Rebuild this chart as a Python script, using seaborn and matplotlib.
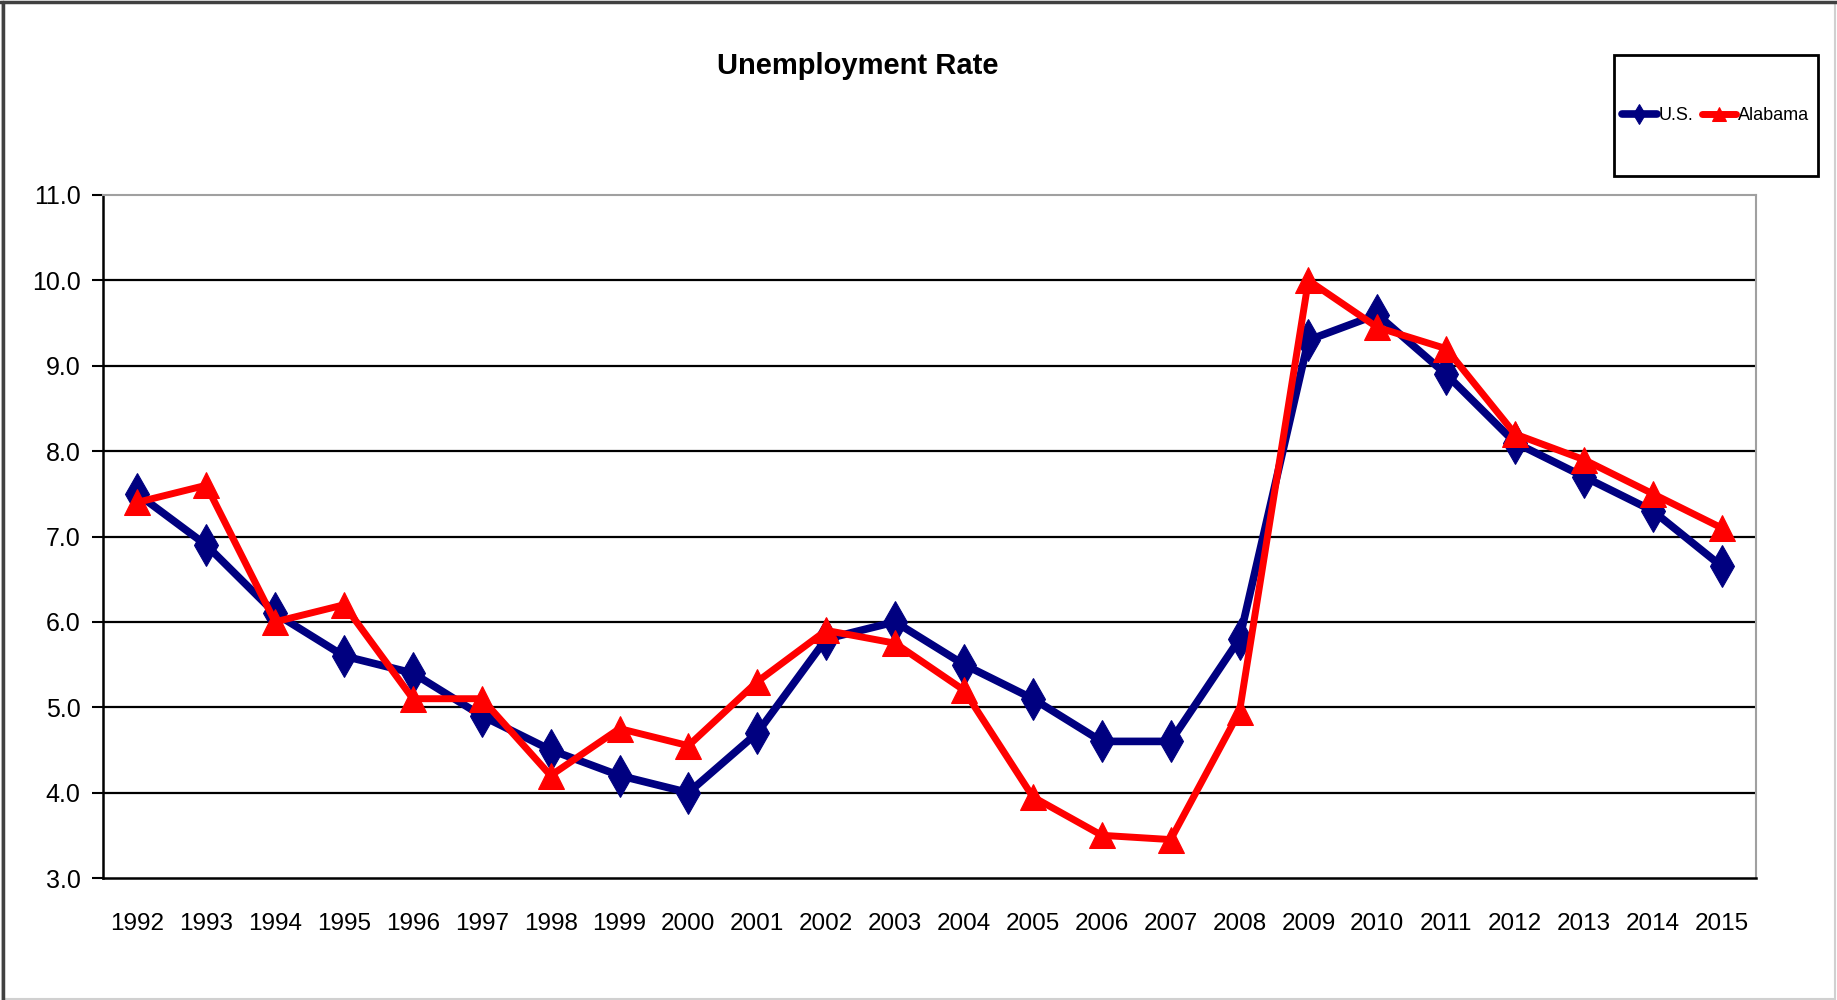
import numpy as np
import pandas as pd
import seaborn as sns
import matplotlib.pyplot as plt
from matplotlib.patches import Rectangle

years = [str(y) for y in range(1992, 2016)]
us_rate = [7.5, 6.9, 6.1, 5.6, 5.4, 4.9, 4.5, 4.2, 4.0, 4.7, 5.8, 6.0,
           5.5, 5.1, 4.6, 4.6, 5.8, 9.3, 9.6, 8.9, 8.1, 7.7, 7.3, 6.65]
alabama_rate = [7.4, 7.6, 6.0, 6.2, 5.1, 5.1, 4.2, 4.75, 4.55, 5.3, 5.9, 5.75,
                5.2, 3.95, 3.5, 3.45, 4.95, 10.0, 9.45, 9.2, 8.2, 7.9, 7.5, 7.1]
y_ticks = [3.0, 4.0, 5.0, 6.0, 7.0, 8.0, 9.0, 10.0, 11.0]

df = pd.DataFrame({"pos": np.arange(len(years)), "us": us_rate, "al": alabama_rate})

sns.set_style("white")
plt.rcParams["font.family"] = ["Liberation Sans Narrow", "Liberation Sans", "DejaVu Sans"]
plt.rcParams["text.color"] = "black"
plt.rcParams["xtick.color"] = "black"
plt.rcParams["ytick.color"] = "black"

fig = plt.figure(figsize=(18.37, 10), dpi=100)
ax = fig.add_axes([0.056, 0.122, 0.9, 0.683])

for v in y_ticks[1:-1]:
    ax.axhline(v, color="black", lw=1.6, zorder=1)

sns.lineplot(data=df, x="pos", y="us", color="#000080", lw=5.5, marker="d",
             markersize=21, markeredgecolor="#000080", label="U.S.", ax=ax, zorder=3)
sns.lineplot(data=df, x="pos", y="al", color="#ff0000", lw=5, marker="^",
             markersize=19, markeredgecolor="#ff0000", label="Alabama", ax=ax, zorder=4)

ax.set_xlim(-0.5, len(years) - 0.5)
ax.set_ylim(3.0, 11.0)
ax.set_yticks(y_ticks)
ax.set_yticklabels([f"{v:.1f}" for v in y_ticks], fontsize=18)
ax.set_xticks(np.arange(len(years)))
ax.set_xticklabels(years, fontsize=17.5)
ax.set_xticks(np.arange(len(years) + 1) - 0.5, minor=True)
ax.tick_params(axis="x", which="major", length=0, pad=25)
ax.tick_params(axis="x", which="minor", length=10, width=1.5, color="black", direction="out")
ax.tick_params(axis="y", length=8, width=1.5, color="black", direction="out", left=True, pad=8)
ax.set_xlabel("")
ax.set_ylabel("")

for side in ["left", "bottom"]:
    ax.spines[side].set_color("black")
    ax.spines[side].set_linewidth(1.8)
for side in ["top", "right"]:
    ax.spines[side].set_color("#a0a0a0")
    ax.spines[side].set_linewidth(1.5)

fig.text(0.467, 0.934, "Unemployment Rate", ha="center", va="center",
         fontsize=21, fontweight="bold")

# legend box
fig.patches.append(Rectangle((0.8786, 0.824), 0.111, 0.121, transform=fig.transFigure,
                             fill=False, edgecolor="black", lw=2))
ax.legend(loc="center", bbox_to_anchor=(0.934, 0.8845), bbox_transform=fig.transFigure,
          ncol=2, frameon=False, fontsize=13, handlelength=1.9, handletextpad=0.1,
          columnspacing=0.5, markerscale=0.5)

# outer figure border
fig.patches.append(Rectangle((0.001, 0.001), 0.998, 0.997, transform=fig.transFigure,
                             fill=False, edgecolor="#d0d0d0", lw=1.5))
fig.add_artist(plt.Line2D([0.0015, 0.0015], [0.0, 0.998], transform=fig.transFigure,
                          color="#404040", lw=2.5))
fig.add_artist(plt.Line2D([0.0, 1.0], [0.998, 0.998], transform=fig.transFigure,
                          color="#404040", lw=2.5))

fig.savefig("out.png", dpi=100, facecolor="white")
